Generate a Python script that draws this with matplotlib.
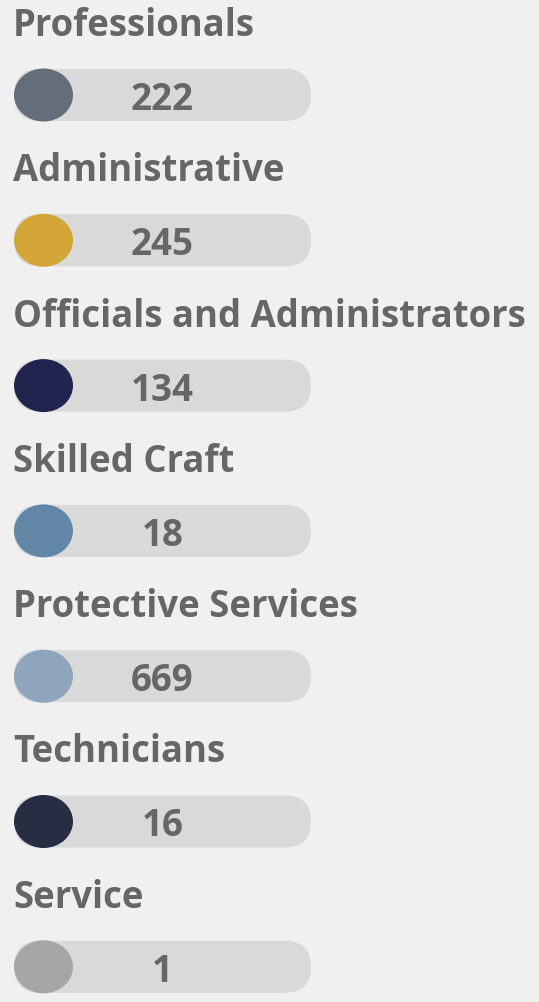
import matplotlib.pyplot as plt
from matplotlib.patches import FancyBboxPatch, Ellipse

# Job categories with head counts and dot colours
categories = ["Professionals", "Administrative", "Officials and Administrators",
              "Skilled Craft", "Protective Services", "Technicians", "Service"]
counts = [222, 245, 134, 18, 669, 16, 1]
dot_colors = ["#636e7a", "#d4a537", "#20244e", "#6286a6", "#8ea5bb", "#272d42", "#a6a6a6"]

W, H = 539, 1003
bg = "#f0f0f0"
track = "#d9d9d9"
text_col = "#666666"

fig = plt.figure(figsize=(W / 100, H / 100), dpi=100, facecolor=bg)
ax = fig.add_axes([0, 0, 1, 1])
ax.set_xlim(0, W)
ax.set_ylim(H, 0)
ax.axis("off")

row_step = 145.3
for i, (name, n, c) in enumerate(zip(categories, counts, dot_colors)):
    ty = 36 + row_step * i
    py = 96 + row_step * i
    ax.text(13, ty, name, fontsize=26.3, fontweight="bold", family="Open Sans",
            color=text_col, ha="left", va="baseline")
    # rounded track
    ax.add_patch(FancyBboxPatch((14, py - 26), 297, 52,
                                boxstyle="round,pad=0,rounding_size=26",
                                fc=track, ec="none"))
    ax.add_patch(Ellipse((43.5, py), 59, 53, fc=c, ec="none"))
    ax.text(162.5, py + 14, str(n), fontsize=26.5, fontweight="bold", family="Open Sans",
            color=text_col, ha="center", va="baseline")

fig.savefig("out.png", dpi=100, facecolor=bg)
